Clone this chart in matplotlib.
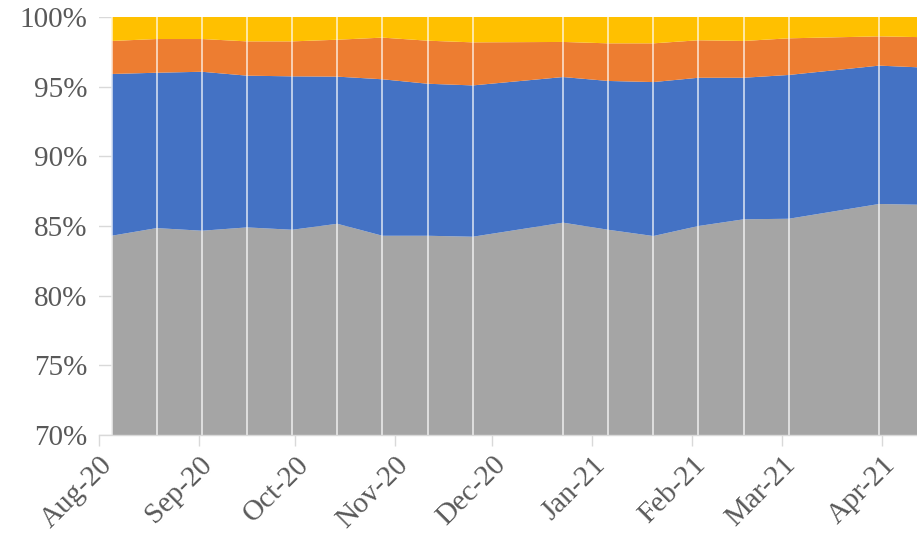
import matplotlib
matplotlib.use("Agg")
import matplotlib.pyplot as plt
import matplotlib.dates as mdates
import numpy as np
import pandas as pd

dates = ["2020-08-05", "2020-08-19", "2020-09-02", "2020-09-16", "2020-09-30",
         "2020-10-14", "2020-10-28", "2020-11-11", "2020-11-25", "2020-12-23",
         "2021-01-06", "2021-01-20", "2021-02-03", "2021-02-17", "2021-03-03",
         "2021-03-31", "2021-04-14"]
gray_share = [84.30, 84.85, 84.66, 84.90, 84.73, 85.16, 84.30, 84.30, 84.23, 85.24,
              84.73, 84.28, 85.00, 85.48, 85.52, 86.58, 86.52]
blue_share = [11.61, 11.15, 11.41, 10.89, 11.01, 10.56, 11.23, 10.91, 10.86, 10.45,
              10.68, 11.05, 10.64, 10.16, 10.32, 9.93, 9.85]
orange_share = [2.37, 2.42, 2.35, 2.46, 2.51, 2.65, 2.99, 3.09, 3.09, 2.52,
                2.70, 2.78, 2.69, 2.64, 2.63, 2.10, 2.18]
yellow_share = [1.72, 1.58, 1.58, 1.75, 1.75, 1.63, 1.48, 1.70, 1.82, 1.79,
                1.89, 1.89, 1.67, 1.72, 1.53, 1.39, 1.45]
tick_labels = ["Aug-20", "Sep-20", "Oct-20", "Nov-20", "Dec-20", "Jan-21",
               "Feb-21", "Mar-21", "Apr-21"]
tick_dates = ["2020-08-01", "2020-09-01", "2020-10-01", "2020-11-01", "2020-12-01",
              "2021-01-01", "2021-02-01", "2021-03-01", "2021-04-01"]
y_ticks = [70, 75, 80, 85, 90, 95, 100]

colors = ["#A5A5A5", "#4472C4", "#ED7D31", "#FFC000"]

x = pd.to_datetime(dates)
xn = mdates.date2num(x)
series = np.array([gray_share, blue_share, orange_share, yellow_share])
series = series / series.sum(axis=0) * 100.0

fig = plt.figure(figsize=(9.17, 5.33), dpi=100)
ax = fig.add_axes([98.7 / 917, 1 - 435 / 533, 1 - 98.7 / 917, (435 - 17) / 533])

for yv in y_ticks:
    ax.axhline(yv, color="#D9D9D9", lw=1.0, zorder=0)

ax.stackplot(xn, series, colors=colors, zorder=1, lw=0)

for xv in xn:
    ax.axvline(xv, color="white", lw=1.2, alpha=0.75, zorder=2)

x0 = mdates.date2num(pd.Timestamp("2020-08-01"))
ax.set_xlim(x0, x0 + (917 - 98.7) / 3.2247)
ax.set_ylim(70, 100)

ax.set_yticks(y_ticks)
ax.set_yticklabels([f"{v}%" for v in y_ticks])
ax.set_xticks(mdates.date2num(pd.to_datetime(tick_dates)))
ax.set_xticklabels(tick_labels, rotation=45, ha="right", rotation_mode="anchor")

for s in ["top", "right", "left"]:
    ax.spines[s].set_visible(False)
ax.spines["bottom"].set_color("#D9D9D9")
ax.spines["bottom"].set_linewidth(1.0)
ax.spines["bottom"].set_zorder(3)

ax.tick_params(axis="y", length=0, pad=8, labelsize=21, labelcolor="#595959")
ax.tick_params(axis="x", length=8, width=1, color="#D9D9D9", labelsize=21,
               labelcolor="#595959", pad=4)
for lab in ax.get_xticklabels() + ax.get_yticklabels():
    lab.set_fontfamily("Liberation Serif")

fig.savefig("out.png", dpi=100)
